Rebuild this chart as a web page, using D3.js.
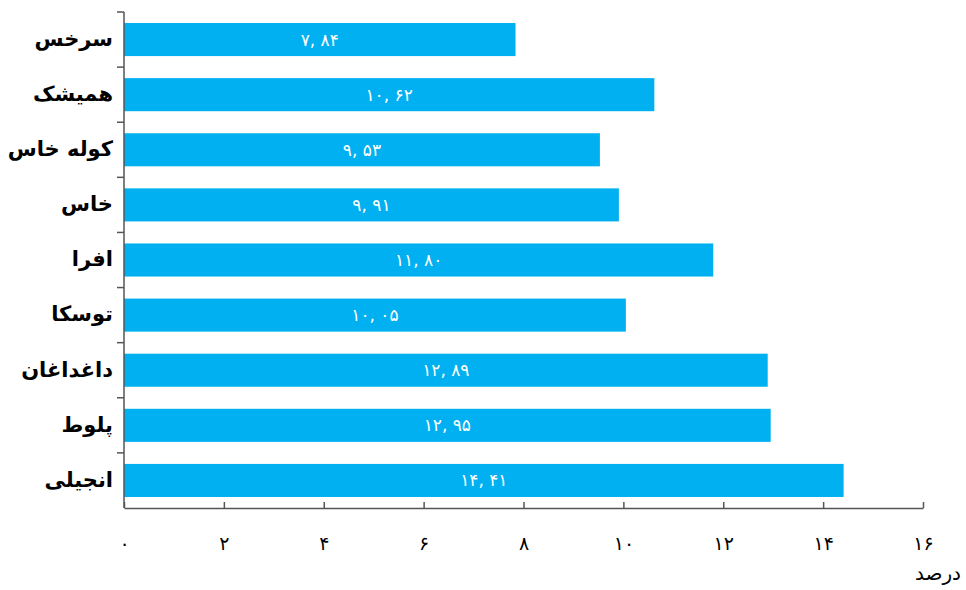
<!DOCTYPE html>
<html>
<head>
<script src="https://d3js.org/d3.v7.min.js"></script>
<style>
  body { margin: 0; background: #fff; }
  text { font-family: "DejaVu Sans", sans-serif; }
</style>
</head>
<body>
<div id="chart"></div>
<script>
const categories = ['سرخس', 'همیشک', 'کوله خاس', 'خاس', 'افرا', 'توسکا', 'داغداغان', 'پلوط', 'انجیلی'];
const values = [7.84, 10.62, 9.53, 9.91, 11.80, 10.05, 12.89, 12.95, 14.41];
const xTicks = [0, 2, 4, 6, 8, 10, 12, 14, 16];
const xTitle = 'درصد';

const w = 966, h = 590;
const padLeft = 124, padRight = 923, padTop = 12, axisY = 508;

const faDigits = '۰۱۲۳۴۵۶۷۸۹';
const toFa = s => String(s).replace(/[0-9]/g, c => faDigits[+c]);

const svg = d3.select('#chart').append('svg')
  .attr('width', w).attr('height', h);

const x = d3.scaleLinear().domain([0, 16]).range([padLeft, padRight]);
const y = d3.scaleBand().domain(categories).range([padTop, axisY])
  .paddingInner(0.4).paddingOuter(0.2);

// bars
svg.selectAll('rect.bar')
  .data(categories)
  .enter().append('rect')
  .attr('class', 'bar')
  .attr('x', x(0))
  .attr('y', d => y(d))
  .attr('width', (d, i) => x(values[i]) - x(0))
  .attr('height', y.bandwidth())
  .attr('fill', '#00b0f0');

// value labels
svg.selectAll('text.val')
  .data(categories)
  .enter().append('text')
  .attr('class', 'val')
  .attr('x', (d, i) => (x(0) + x(values[i])) / 2)
  .attr('y', d => y(d) + y.bandwidth() / 2)
  .attr('dy', '0.35em')
  .attr('text-anchor', 'middle')
  .attr('fill', '#fff')
  .attr('font-size', 17)
  .attr('letter-spacing', 1)
  .text((d, i) => toFa(d3.format('.2f')(values[i]).replace('.', ', ')));

// y axis: line with ticks at band boundaries
const yAxis = svg.append('g');
yAxis.append('line')
  .attr('x1', padLeft).attr('x2', padLeft)
  .attr('y1', padTop).attr('y2', axisY)
  .attr('stroke', '#555').attr('stroke-width', 1.5);
const step = y.step();
yAxis.selectAll('line.tk')
  .data(d3.range(categories.length))
  .enter().append('line')
  .attr('class', 'tk')
  .attr('x1', padLeft - 7).attr('x2', padLeft)
  .attr('y1', i => padTop + i * step).attr('y2', i => padTop + i * step)
  .attr('stroke', '#555').attr('stroke-width', 1.5);
yAxis.selectAll('text')
  .data(categories)
  .enter().append('text')
  .attr('x', padLeft - 11)
  .attr('y', d => y(d) + y.bandwidth() / 2)
  .attr('dy', '0.3em')
  .attr('text-anchor', 'end')
  .attr('font-size', 21)
  .attr('font-weight', 'bold')
  .attr('fill', '#000')
  .text(d => d);

// x axis
const xAxis = d3.axisTop(x)
  .tickValues(xTicks)
  .tickSize(6)
  .tickSizeOuter(0)
  .tickFormat(d => toFa(d));
const gx = svg.append('g')
  .attr('transform', `translate(0,${axisY})`)
  .call(xAxis);
gx.select('.domain').attr('stroke', '#555').attr('stroke-width', 1.5);
gx.selectAll('.tick line').attr('stroke', '#555').attr('stroke-width', 1.5);
gx.selectAll('.tick text')
  .attr('y', 35)
  .attr('dy', '0.35em')
  .attr('font-size', 19)
  .attr('font-family', '"DejaVu Sans", sans-serif')
  .attr('fill', '#000');

svg.append('text')
  .attr('x', 961)
  .attr('y', 580)
  .attr('text-anchor', 'end')
  .attr('font-size', 20)
  .attr('fill', '#000')
  .text(xTitle);
</script>
</body>
</html>
